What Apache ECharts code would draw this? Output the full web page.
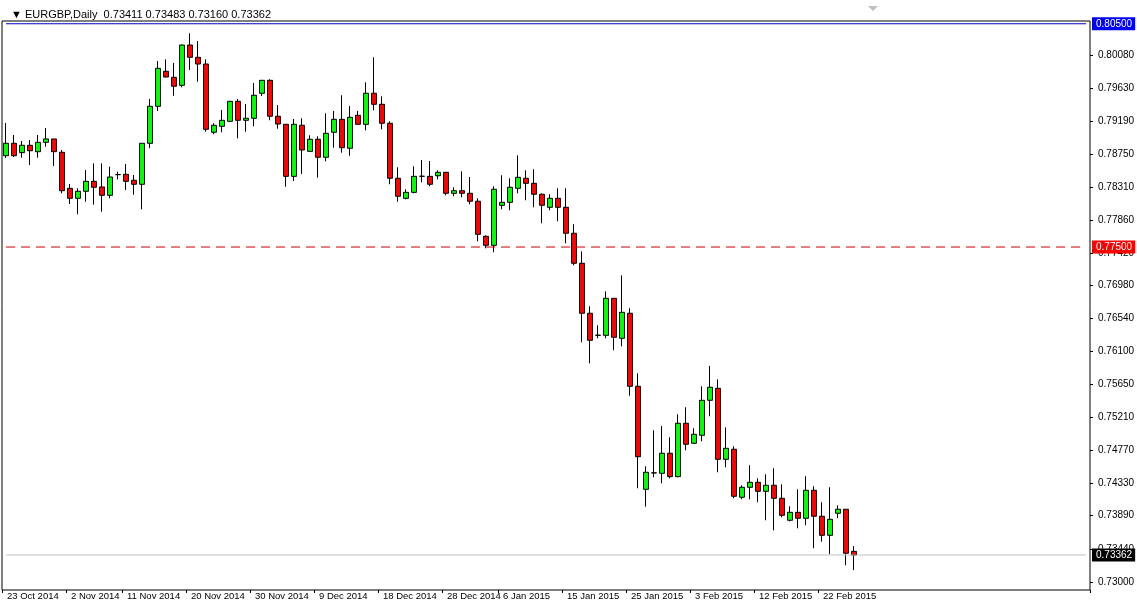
<!DOCTYPE html>
<html>
<head>
<meta charset="utf-8">
<script src="https://cdn.jsdelivr.net/npm/echarts@6/dist/echarts.min.js"></script>
<style>
  html, body { margin: 0; padding: 0; background: #fff; }
  #main { width: 1137px; height: 606px; }
</style>
</head>
<body>
<div id="main"></div>
<script>
// daily bars, oldest first
var openP = [0.78727,0.78894,0.78768,0.78867,0.78781,0.78907,0.78952,0.78773,0.78289,0.78155,
  0.78249,0.78383,0.78307,0.78195,0.78472,0.78477,0.78397,0.78343,0.78894,0.79391,
  0.79861,0.79780,0.79673,0.80214,0.80049,0.79959,0.79042,0.79122,0.79189,0.79458,
  0.79203,0.79230,0.79566,0.79740,0.79257,0.79149,0.78450,0.79136,0.78786,0.78948,
  0.78706,0.79042,0.79216,0.78827,0.79270,0.79149,0.79566,0.79418,0.79163,0.78424,
  0.78155,0.78235,0.78450,0.78450,0.78458,0.78504,0.78222,0.78257,0.78222,0.78115,
  0.77644,0.77523,0.78061,0.78101,0.78289,0.78424,0.78356,0.78209,0.78034,0.78155,
  0.78034,0.77685,0.77282,0.76610,0.76314,0.76314,0.76811,0.76274,0.76610,0.75629,
  0.74245,0.74464,0.74460,0.74729,0.74415,0.75132,0.74863,0.74971,0.75441,0.75602,
  0.74648,0.74783,0.74138,0.74272,0.74339,0.74218,0.74299,0.74124,0.73829,0.73936,
  0.73856,0.74232,0.73883,0.73627,0.73923,0.73977,0.73411];
var highP = [0.79167,0.79005,0.78925,0.78938,0.79005,0.79099,0.78952,0.78804,0.78347,0.78289,
  0.78535,0.78625,0.78625,0.78579,0.78512,0.78616,0.78468,0.78894,0.79489,0.79999,
  0.80022,0.79973,0.80220,0.80372,0.80268,0.80022,0.79163,0.79341,0.79462,0.79489,
  0.79422,0.79704,0.79745,0.79754,0.79408,0.79152,0.79220,0.79230,0.79001,0.78988,
  0.79297,0.79328,0.79539,0.79395,0.79328,0.79713,0.80049,0.79525,0.79189,0.78571,
  0.78276,0.78585,0.78669,0.78656,0.78531,0.78508,0.78303,0.78518,0.78441,0.78155,
  0.77658,0.78316,0.78464,0.78424,0.78733,0.78531,0.78545,0.78222,0.78209,0.78289,
  0.78289,0.77806,0.77443,0.76704,0.76449,0.76905,0.76815,0.77120,0.76677,0.75804,
  0.74554,0.75038,0.75096,0.74944,0.75253,0.75347,0.75065,0.75629,0.75902,0.75723,
  0.75078,0.74823,0.74299,0.74568,0.74393,0.74447,0.74527,0.74312,0.74017,0.74245,
  0.74420,0.74286,0.74071,0.74272,0.74030,0.73980,0.73483];
var lowP = [0.78696,0.78710,0.78700,0.78602,0.78700,0.78848,0.78589,0.78222,0.78078,0.77940,
  0.78109,0.78069,0.77975,0.78155,0.78410,0.78266,0.78203,0.78007,0.78827,0.79328,
  0.79780,0.79533,0.79646,0.79879,0.79721,0.79050,0.79015,0.79042,0.79186,0.78961,
  0.79050,0.79122,0.79529,0.79203,0.79090,0.78311,0.78387,0.78481,0.78783,0.78432,
  0.78652,0.78835,0.78768,0.78727,0.79145,0.79068,0.79337,0.79082,0.78343,0.78109,
  0.78141,0.78222,0.78370,0.78316,0.78410,0.78195,0.78182,0.78168,0.78074,0.77577,
  0.77483,0.77429,0.78007,0.77994,0.78222,0.78128,0.78034,0.77819,0.77994,0.77846,
  0.77550,0.77255,0.76220,0.75938,0.76274,0.76274,0.76113,0.76166,0.75503,0.74259,
  0.74012,0.74406,0.74326,0.74393,0.74406,0.74769,0.74860,0.74890,0.75226,0.74474,
  0.74541,0.74124,0.74111,0.74111,0.74071,0.73829,0.73694,0.73869,0.73815,0.73721,
  0.73762,0.73453,0.73541,0.73372,0.73856,0.73224,0.73160];
var closeP = [0.78894,0.78727,0.78867,0.78794,0.78907,0.78952,0.78781,0.78257,0.78155,0.78249,
  0.78383,0.78303,0.78195,0.78441,0.78474,0.78383,0.78343,0.78894,0.79391,0.79901,
  0.79785,0.79660,0.80214,0.80049,0.79959,0.79082,0.79136,0.79203,0.79458,0.79203,
  0.79230,0.79539,0.79740,0.79257,0.79153,0.78450,0.79149,0.78804,0.78948,0.78706,
  0.79028,0.79216,0.78835,0.79243,0.79149,0.79566,0.79418,0.79163,0.78424,0.78182,
  0.78235,0.78450,0.78452,0.78343,0.78504,0.78222,0.78257,0.78222,0.78115,0.77671,
  0.77523,0.78276,0.78101,0.78303,0.78437,0.78356,0.78209,0.78061,0.78155,0.78034,
  0.77685,0.77282,0.76610,0.76247,0.76316,0.76811,0.76287,0.76623,0.75629,0.74683,
  0.74474,0.74466,0.74729,0.74415,0.75132,0.74850,0.74984,0.75441,0.75616,0.74648,
  0.74796,0.74151,0.74272,0.74339,0.74218,0.74299,0.74124,0.73896,0.73936,0.73856,
  0.74232,0.73883,0.73627,0.73842,0.73977,0.73386,0.73362];

var dateLabels = ['23 Oct 2014','2 Nov 2014','11 Nov 2014','20 Nov 2014','30 Nov 2014','9 Dec 2014','18 Dec 2014',
  '28 Dec 2014','6 Jan 2015','15 Jan 2015','25 Jan 2015','3 Feb 2015','12 Feb 2015','22 Feb 2015'];
var dateLabelBars = [0,8,15,23,31,39,47,55,62,70,78,86,94,102];
var priceTicks = [0.73000,0.73440,0.73890,0.74330,0.74770,0.75210,0.75650,0.76100,0.76540,
  0.76980,0.77420,0.77860,0.78310,0.78750,0.79190,0.79630,0.80080];
var levelLine = 0.77500;
var topPrice = 0.80500;
var slotCount = 136;

var cats = [];
for (var i = 0; i < slotCount; i++) {
  var k = dateLabelBars.indexOf(i);
  cats.push(k >= 0 ? dateLabels[k] : '');
}
var candles = [];
for (var j = 0; j < openP.length; j++) candles.push([openP[j], closeP[j], lowP[j], highP[j]]);
var lastClose = closeP[closeP.length - 1];

function flat(v) {
  var a = [];
  for (var n = 0; n < slotCount; n++) a.push(v);
  return a;
}

var FONT = 'Liberation Sans';
var myChart = echarts.init(document.getElementById('main'));

var boxStyle = function (bg, fg) {
  return { color: fg, backgroundColor: bg, padding: [2, 3, 1, 4], fontFamily: FONT, fontSize: 10 };
};

var option = {
  backgroundColor: '#fff',
  animation: false,
  title: {
    text: '▼ EURGBP,Daily  ' + [openP, highP, lowP, closeP].map(function (a) { return a[a.length - 1].toFixed(5); }).join(' '),
    left: 6, top: 4,
    textStyle: { fontFamily: FONT, fontSize: 11, fontWeight: 'normal', color: '#000' }
  },
  grid: {
    left: 2, right: 47, top: 21, bottom: 16, show: true, borderColor: '#000', borderWidth: 1,
    containLabel: false, outerBoundsMode: 'none'
  },
  xAxis: {
    type: 'category',
    data: cats,
    boundaryGap: true,
    axisLine: { show: false },
    axisTick: {
      show: true, length: 3, lineStyle: { color: '#000' },
      interval: function (idx) { return dateLabelBars.indexOf(idx) >= 0; }
    },
    axisLabel: {
      interval: 0, align: 'left', margin: 1, hideOverlap: false, padding: [0, 0, 0, 1],
      color: '#000', fontFamily: FONT, fontSize: 9.5
    },
    splitLine: { show: false }
  },
  yAxis: {
    type: 'value',
    position: 'right',
    min: 0.72892,
    max: 0.80537,
    axisLine: { show: false },
    axisTick: { show: true, length: 3, lineStyle: { color: '#000' }, customValues: priceTicks },
    axisLabel: {
      show: true, margin: 2, color: '#000', fontFamily: FONT, fontSize: 10,
      customValues: priceTicks.concat([topPrice, levelLine, lastClose]),
      formatter: function (v) {
        var s = v.toFixed(5);
        if (Math.abs(v - topPrice) < 1e-7) return '{b|' + s + '}';
        if (Math.abs(v - levelLine) < 1e-7) return '{r|' + s + '}';
        if (Math.abs(v - lastClose) < 1e-7) return '{k|' + s + '}';
        return '{n|' + s + '}';
      },
      rich: {
        b: boxStyle('#0000ff', '#fff'), r: boxStyle('#ff0000', '#fff'), k: boxStyle('#000', '#fff'),
        n: { color: '#000', padding: [0, 0, 0, 6], fontFamily: FONT, fontSize: 10 }
      }
    },
    splitLine: { show: false }
  },
  series: [{
    type: 'line', data: flat(topPrice), showSymbol: false, silent: true,
    lineStyle: { color: '#0000c8', width: 1 }
  }, {
    type: 'line', data: flat(levelLine), showSymbol: false, silent: true,
    lineStyle: { color: '#d00000', width: 1, type: [9, 6] }
  }, {
    type: 'line', data: flat(lastClose), showSymbol: false, silent: true,
    lineStyle: { color: '#c0c0c0', width: 1 }
  }, {
    type: 'candlestick',
    data: candles,
    barWidth: 5,
    itemStyle: {
      color: '#00ff00', color0: '#ff0000',
      borderColor: '#000', borderColor0: '#000', borderWidth: 1
    }
  }],
  graphic: [{
    type: 'polygon', shape: { points: [[868, 6], [878, 6], [873, 11]] },
    style: { fill: '#c0c0c0' }
  }]
};

option && myChart.setOption(option);
</script>
</body>
</html>
